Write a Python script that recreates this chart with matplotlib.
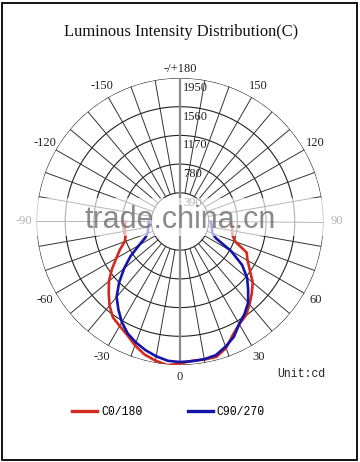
import numpy as np
import matplotlib
matplotlib.use("Agg")
import matplotlib.pyplot as plt
from matplotlib.patches import Rectangle

# ---------------- data ----------------
angles = [-90, -85, -80, -75, -70, -65, -60, -55, -50, -45, -40, -35, -30, -25, -20, -15, -10, -5, 0,
          5, 10, 15, 20, 25, 30, 35, 40, 45, 50, 55, 60, 65, 70, 75, 80, 85, 90]
c0_180 = [740, 750, 760, 765, 800, 900, 1000, 1130, 1260, 1370, 1490, 1590, 1640, 1700, 1790, 1870, 1920, 1960, 1930,
          1900, 1905, 1905, 1830, 1700, 1610, 1560, 1470, 1380, 1290, 1160, 1060, 1000, 800, 740, 720, 710, 700]
c90_270 = [420, 430, 440, 450, 470, 520, 640, 820, 990, 1170, 1340, 1460, 1580, 1680, 1750, 1810, 1860, 1900, 1910,
           1905, 1900, 1880, 1810, 1730, 1610, 1530, 1440, 1310, 1190, 1030, 800, 540, 470, 450, 440, 430, 420]
ring_values = [390, 780, 1170, 1560, 1950]
angle_labels = {0: "0", 30: "30", -30: "-30", 60: "60", -60: "-60", 90: "90", -90: "-90",
                120: "120", -120: "-120", 150: "150", -150: "-150", 180: "-/+180"}
series_names = ["C0/180", "C90/270"]

W, H = 360, 462
fig = plt.figure(figsize=(W / 100, H / 100), dpi=100)
fig.patch.set_facecolor("white")

serif = ["Liberation Serif", "DejaVu Serif"]
mono = ["Liberation Mono", "DejaVu Sans Mono"]

# polar axes: centre (180, 221.5), radius 143.5 px
cx, cy, R = 180, 221.5, 143.5
ax = fig.add_axes([(cx - R) / W, 1 - (cy + R) / H, 2 * R / W, 2 * R / H], projection="polar")
ax.set_theta_zero_location("S")
ax.set_theta_direction(1)
ax.set_ylim(0, ring_values[-1])
ax.grid(False)
ax.set_xticks([])
ax.set_yticks([])
ax.spines["polar"].set_visible(False)
ax.patch.set_alpha(0)

# rings
tt = np.linspace(0, 2 * np.pi, 721)
for r in ring_values:
    ax.plot(tt, np.full_like(tt, r), color="#222222", lw=0.8, zorder=1)
# spokes every 10 degrees
for a in range(0, 360, 10):
    if a in (0, 180):
        continue
    th = np.deg2rad(a)
    ax.plot([th, th], [ring_values[0], ring_values[-1]], color="#333333", lw=0.7, zorder=1)
# vertical axis line
for a in (0, 180):
    th = np.deg2rad(a)
    ax.plot([th, th], [0, ring_values[-1]], color="#8a8a8a", lw=1.6, zorder=1)

# ring labels
for r in ring_values:
    ax.annotate(str(r), xy=(np.pi, r), xytext=(2.3, -7.2), textcoords="offset points",
                ha="left", va="center", fontsize=9, family=serif, color="#222222",
                annotation_clip=False, zorder=3)

# angle labels
for a, lab in angle_labels.items():
    rr = 2070 if a == 180 else (2115 if a == 0 else 2125)
    ax.text(np.deg2rad(a), rr, lab, ha="center", va="center", fontsize=9, family=serif,
            color="#222222", clip_on=False)

# curves
th = np.deg2rad(angles)
l1, = ax.plot(th, c0_180, color="#d42a1e", lw=1.9, zorder=4, label=series_names[0])
l2, = ax.plot(th, c90_270, color="#1414a8", lw=1.9, zorder=5, label=series_names[1])

# legend
fig.legend(handles=[l1, l2], loc="center", bbox_to_anchor=(168.5 / W, 1 - 412 / H),
           ncol=2, frameon=False, prop={"family": mono, "size": 8.3},
           handlelength=2.17, handletextpad=0.35, columnspacing=3.9, borderpad=0)
for ln in fig.legends[0].get_lines():
    ln.set_linewidth(2.4)

# title
fig.text(181.5 / W, 1 - 32 / H, "Luminous Intensity Distribution(C)", ha="center", va="center",
         fontsize=11.9, family=serif, color="#111111")

# unit
fig.text(277 / W, 1 - 374 / H, "Unit:cd", ha="left", va="center", fontsize=8.3, family=mono,
         color="#222222")

# watermark band
fig.add_artist(Rectangle((4 / W, 1 - 236 / H), 352 / W, 38 / H, transform=fig.transFigure,
                         facecolor="white", edgecolor="none", alpha=0.65, zorder=8))
fig.text(180 / W, 1 - 220 / H, "trade.china.cn", ha="center", va="center", fontsize=22,
         family=["Liberation Sans", "DejaVu Sans"], color="#6e6e6e", alpha=0.8, zorder=9)

# frame
fig.add_artist(Rectangle((2 / W, 2 / H), 355 / W, 457 / H, transform=fig.transFigure,
                         facecolor="none", edgecolor="black", lw=1.3, zorder=10))

fig.savefig("out.png", dpi=100)
